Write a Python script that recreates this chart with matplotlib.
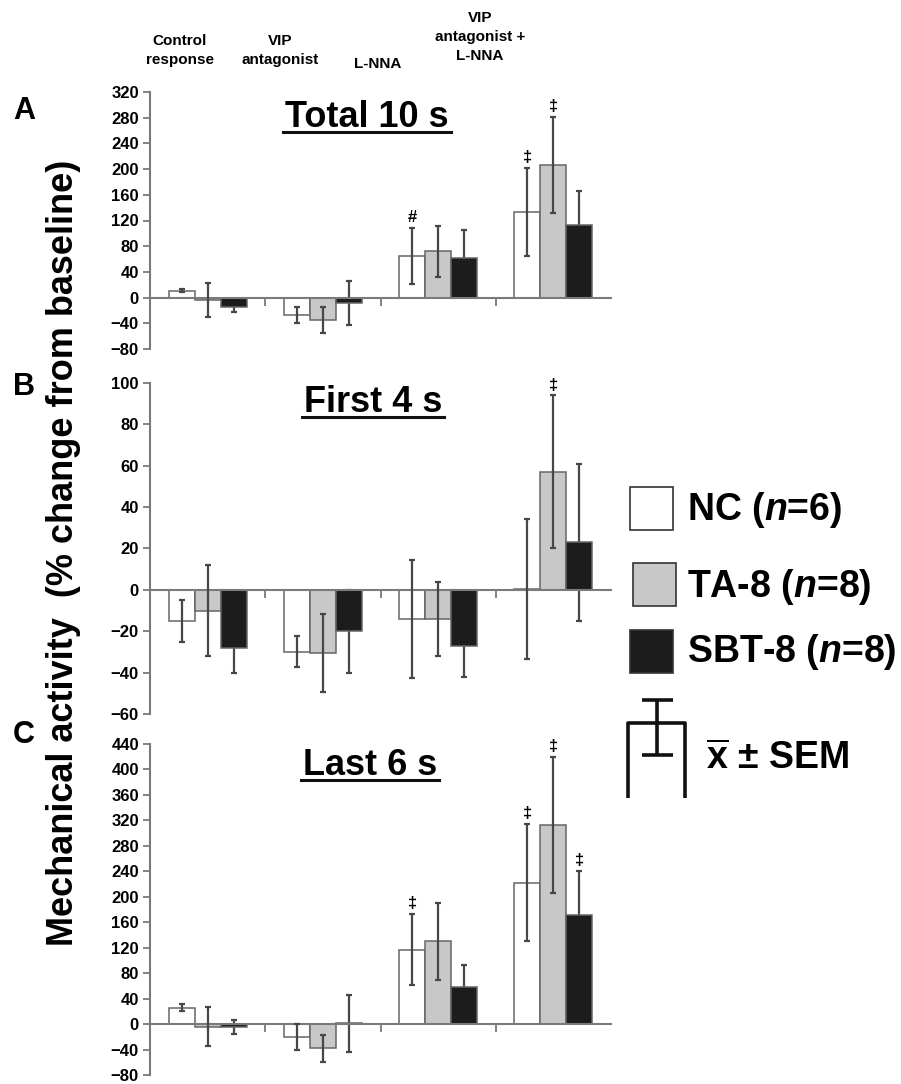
import matplotlib
matplotlib.use('Agg')
import matplotlib.pyplot as plt
from matplotlib.patches import Rectangle
import numpy as np

plt.rcParams['font.family'] = ['Liberation Sans', 'DejaVu Sans']
plt.rcParams['font.weight'] = 'bold'
plt.rcParams['mathtext.fontset'] = 'custom'
plt.rcParams['mathtext.rm'] = 'Liberation Sans:bold'
plt.rcParams['mathtext.it'] = 'Liberation Sans:bold:italic'
plt.rcParams['mathtext.bf'] = 'Liberation Sans:bold'

groups = ['Control\nresponse', 'VIP\nantagonist', 'L-NNA', 'VIP\nantagonist +\nL-NNA']
series = ['NC ($\\mathit{n}$=6)', 'TA-8 ($\\mathit{n}$=8)', 'SBT-8 ($\\mathit{n}$=8)']
colors = ['white', '#c8c8c8', '#1c1c1c']

# panel A: total 10 s
nc_a = [11, -27, 65, 133]
nc_a_err = [2, 12, 44, 69]
ta_a = [-4, -35, 72, 206]
ta_a_err = [26, 20, 40, 75]
sbt_a = [-14, -8, 62, 113]
sbt_a_err = [9, 34, 43, 53]

# panel B: first 4 s
nc_b = [-15, -30, -14, 0.5]
nc_b_err = [10, 7.5, 28.5, 34]
ta_b = [-10, -30.5, -14, 57]
ta_b_err = [22, 19, 18, 37]
sbt_b = [-28, -20, -27, 23]
sbt_b_err = [12, 20, 15, 38]

# panel C: last 6 s
nc_c = [26, -20, 117, 222]
nc_c_err = [5, 20, 56, 92]
ta_c = [-4, -38, 130, 313]
ta_c_err = [31, 21, 60, 107]
sbt_c = [-5, 1, 59, 171]
sbt_c_err = [11, 45, 34, 70]

# significance marks: (group, series, symbol)
marks_a = [(2, 0, '#'), (3, 0, '\u2021'), (3, 1, '\u2021')]
marks_b = [(3, 1, '\u2021')]
marks_c = [(2, 0, '\u2021'), (3, 0, '\u2021'), (3, 1, '\u2021'), (3, 2, '\u2021')]

panels = [
    ('A', 'Total 10 s', [nc_a, ta_a, sbt_a], [nc_a_err, ta_a_err, sbt_a_err], marks_a,
     (-80, 320), np.arange(-80, 321, 40)),
    ('B', 'First 4 s', [nc_b, ta_b, sbt_b], [nc_b_err, ta_b_err, sbt_b_err], marks_b,
     (-60, 100), np.arange(-60, 101, 20)),
    ('C', 'Last 6 s', [nc_c, ta_c, sbt_c], [nc_c_err, ta_c_err, sbt_c_err], marks_c,
     (-80, 440), np.arange(-80, 441, 40)),
]

W, H = 901, 1084
fig = plt.figure(figsize=(W / 100, H / 100), dpi=100)

# axes boxes in pixels: (top, bottom)
boxes = [(92, 349), (383, 714), (744, 1075)]
left_px, right_px = 150, 611
axis_col = '#7a7a7a'
bar_w = 0.226
x = np.arange(len(groups)) + 0.5
err_z = [3, 3, 1]   # black bars hide their own error stems

axes = []
for (top, bot), (letter, title, vals, errs, marks, ylim, yticks) in zip(boxes, panels):
    ax = fig.add_axes([left_px / W, 1 - bot / H, (right_px - left_px) / W, (bot - top) / H])
    for i in range(3):
        xi = x + (i - 1) * bar_w
        ax.bar(xi, vals[i], bar_w, color=colors[i], edgecolor='#666666', linewidth=1.1, zorder=2)
        ax.errorbar(xi, vals[i], yerr=errs[i], fmt='none', ecolor='#474747',
                    elinewidth=1.6, capsize=2.5, capthick=1.6, zorder=err_z[i])
    for g, s, sym in marks:
        xs = x[g] + (s - 1) * bar_w
        ax.annotate(sym, xy=(xs, vals[s][g] + errs[s][g]), xytext=(0, 2),
                    textcoords='offset points', ha='center', va='bottom', fontsize=12)
    ax.set_xlim(0, 4)
    ax.set_ylim(*ylim)
    ax.set_yticks(yticks)
    ax.set_xticks([1, 2, 3])
    ax.set_xticklabels([])
    ax.spines['top'].set_visible(False)
    ax.spines['right'].set_visible(False)
    ax.spines['bottom'].set_position(('data', 0))
    for sp in ['left', 'bottom']:
        ax.spines[sp].set_color(axis_col)
        ax.spines[sp].set_linewidth(1.5)
    ax.tick_params(axis='y', direction='out', length=5, width=1.3, color=axis_col,
                   labelsize=12, pad=3)
    ax.tick_params(axis='x', direction='out', length=6, width=1.3, color=axis_col)
    ax.set_facecolor('none')
    axes.append(ax)

# overlay in pixel coordinates for text and legend
ov = fig.add_axes([0, 0, 1, 1], zorder=-1)
ov.set_xlim(0, W)
ov.set_ylim(H, 0)
ov.axis('off')

# column headers
ov.text(180, 34, 'Control\nresponse', ha='center', va='top', fontsize=11, linespacing=1.45)
ov.text(280, 34, 'VIP\nantagonist', ha='center', va='top', fontsize=11, linespacing=1.45)
ov.text(378, 57, 'L-NNA', ha='center', va='top', fontsize=11)
ov.text(480, 11, 'VIP\nantagonist +\nL-NNA', ha='center', va='top', fontsize=11, linespacing=1.45)

# panel letters
for letter, yc in zip(['A', 'B', 'C'], [111, 387, 735]):
    ov.text(24, yc, letter, ha='center', va='center', fontsize=22)

# titles with underline
titles = []
for (letter, title, *_), (xc, yb) in zip(panels, [(367, 127), (373, 412), (370, 775)]):
    t = ov.text(xc, yb, title, ha='center', va='baseline', fontsize=26)
    titles.append((t, yb))

# y label
ov.text(64, 553, 'Mechanical activity  (% change from baseline)', rotation=90,
        ha='center', va='center', fontsize=26)

# legend
leg_boxes = [(630, 487), (633, 563), (630, 630)]
leg_base = [520, 597, 662]
for (bx, by), yb, lab, c in zip(leg_boxes, leg_base, series, colors):
    ov.add_patch(Rectangle((bx, by), 43, 43, facecolor=c, edgecolor='#333333', linewidth=1.2))
    ov.text(687, yb, lab, ha='left', va='baseline', fontsize=27)

lk = dict(color='#111111', linewidth=2.6, solid_capstyle='butt')
ov.plot([642, 673], [700, 700], **lk)
ov.plot([657, 657], [700, 755], **lk)
ov.plot([642, 673], [755, 755], **lk)
ov.plot([628, 628, 685, 685], [798, 723, 723, 798], **lk)
ov.text(706, 769, '$\\overline{\\mathrm{x}}$ \u00b1 SEM', ha='left', va='baseline', fontsize=27)

fig.canvas.draw()
r = fig.canvas.get_renderer()
for t, yb in titles:
    bb = t.get_window_extent(renderer=r)
    ov.plot([bb.x0 - 2, bb.x1 + 2], [yb + 5, yb + 5], color='#111111', linewidth=2.2)

fig.savefig('out.png', dpi=100)
